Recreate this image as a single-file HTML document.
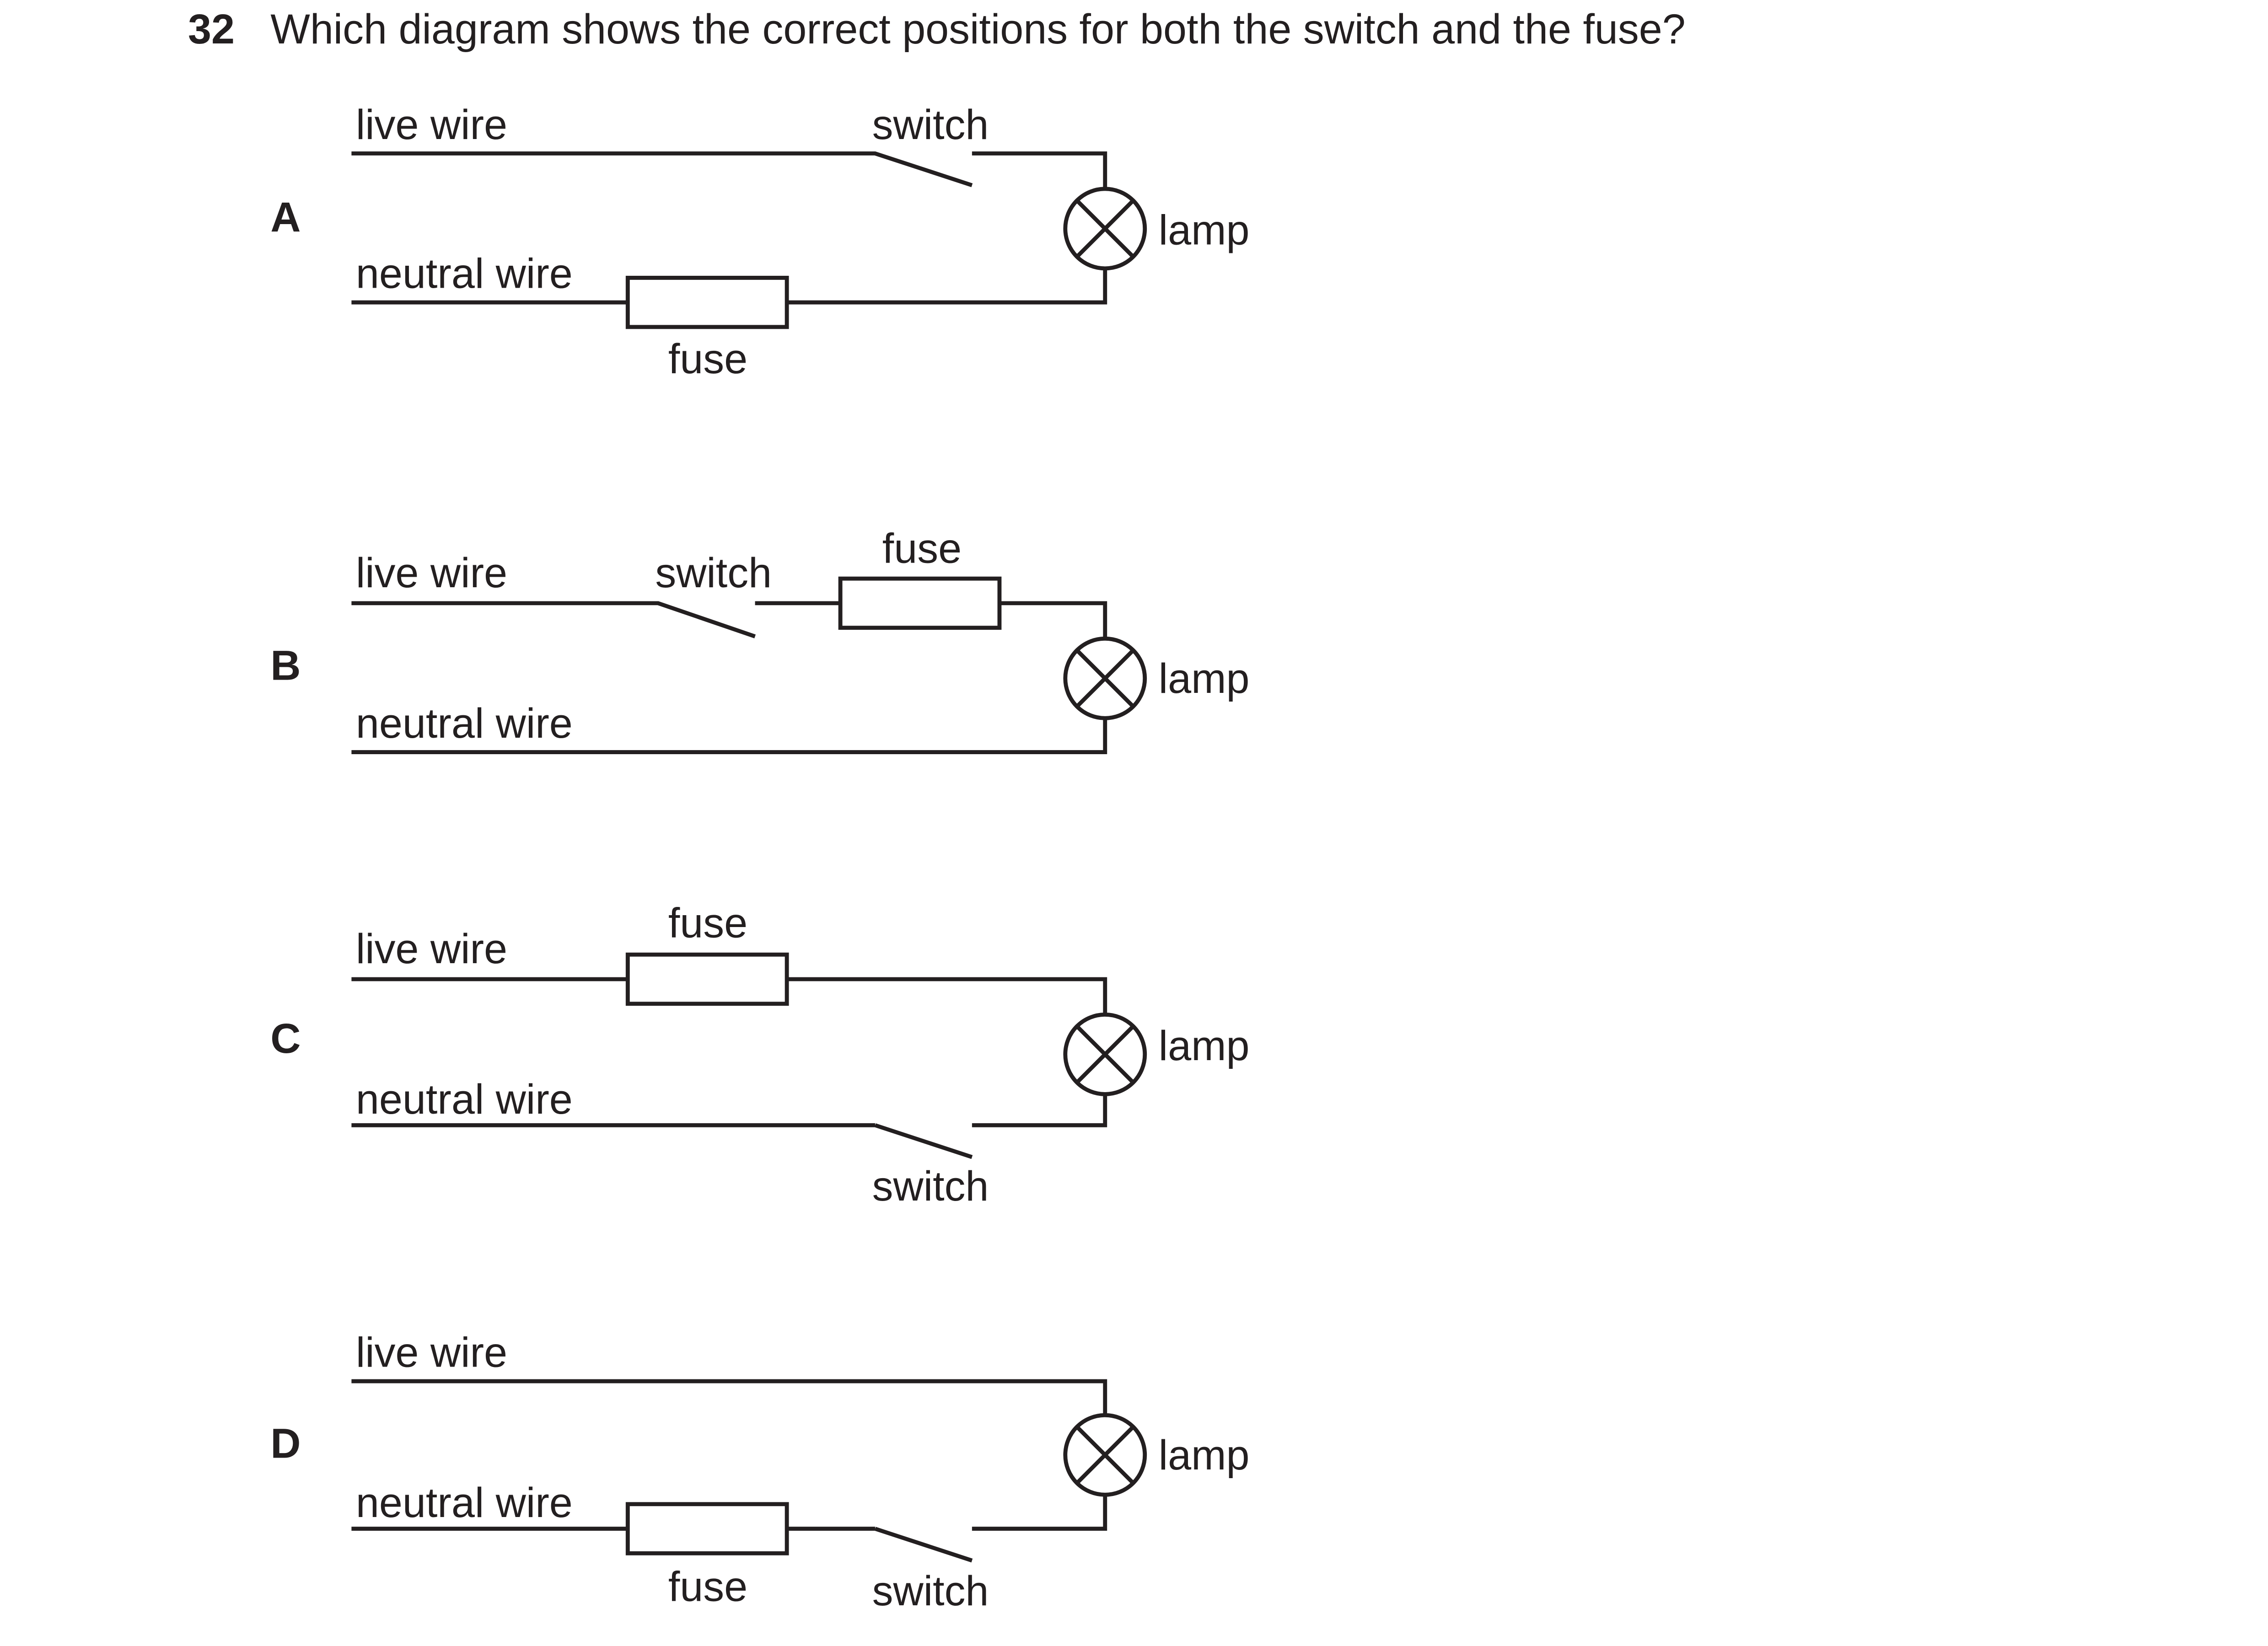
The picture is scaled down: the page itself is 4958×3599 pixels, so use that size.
<!DOCTYPE html>
<html><head><style>html,body{margin:0;padding:0;background:#fff;width:4958px;height:3599px;overflow:hidden}svg{display:block}</style></head>
<body>
<svg width="4958" height="3599" viewBox="0 0 1568 1138" xmlns="http://www.w3.org/2000/svg" font-family="Liberation Sans, Arial, sans-serif" fill="#231f20">
<g font-size="29">
<text x="130" y="30" font-weight="bold">32</text>
<text x="187" y="30">Which diagram shows the correct positions for both the switch and the fuse?</text>
<g font-weight="bold"><text x="187" y="160">A</text><text x="187" y="470">B</text><text x="187" y="728">C</text><text x="187" y="1008">D</text></g>
<text x="246" y="96">live wire</text><text x="603" y="96">switch</text><text x="246" y="199">neutral wire</text><text x="462" y="258">fuse</text><text x="801" y="169">lamp</text>
<text x="246" y="406">live wire</text><text x="453" y="406">switch</text><text x="610" y="389">fuse</text><text x="246" y="510">neutral wire</text><text x="801" y="479">lamp</text>
<text x="246" y="666">live wire</text><text x="462" y="648">fuse</text><text x="246" y="770">neutral wire</text><text x="603" y="830">switch</text><text x="801" y="733">lamp</text>
<text x="246" y="945">live wire</text><text x="246" y="1049">neutral wire</text><text x="462" y="1107">fuse</text><text x="603" y="1110">switch</text><text x="801" y="1016">lamp</text>
</g>
<g fill="none" stroke="#231f20" stroke-width="2.8">
<path d="M243 106H605L672 128M672 106H764V131M764 186V209H243"/>
<rect x="434" y="192" width="110" height="34" fill="#fff"/>
<circle cx="764" cy="158" r="27.5"/><path d="M745 139L783 177M783 139L745 177"/>
<path d="M243 417H455L522 440M522 417H581M691 417H764V442M764 496V520H243"/>
<rect x="581" y="400" width="110" height="34"/>
<circle cx="764" cy="469" r="27.5"/><path d="M745 450L783 488M783 450L745 488"/>
<path d="M243 677H764V702M764 756V778H672M605 778H243M605 778L672 800"/>
<rect x="434" y="660" width="110" height="34" fill="#fff"/>
<circle cx="764" cy="729" r="27.5"/><path d="M745 710L783 748M783 710L745 748"/>
<path d="M243 955H764V979M764 1033V1057H672M605 1057H243M605 1057L672 1079"/>
<rect x="434" y="1040" width="110" height="34" fill="#fff"/>
<circle cx="764" cy="1006" r="27.5"/><path d="M745 987L783 1025M783 987L745 1025"/>
</g>
</svg>
</body></html>
